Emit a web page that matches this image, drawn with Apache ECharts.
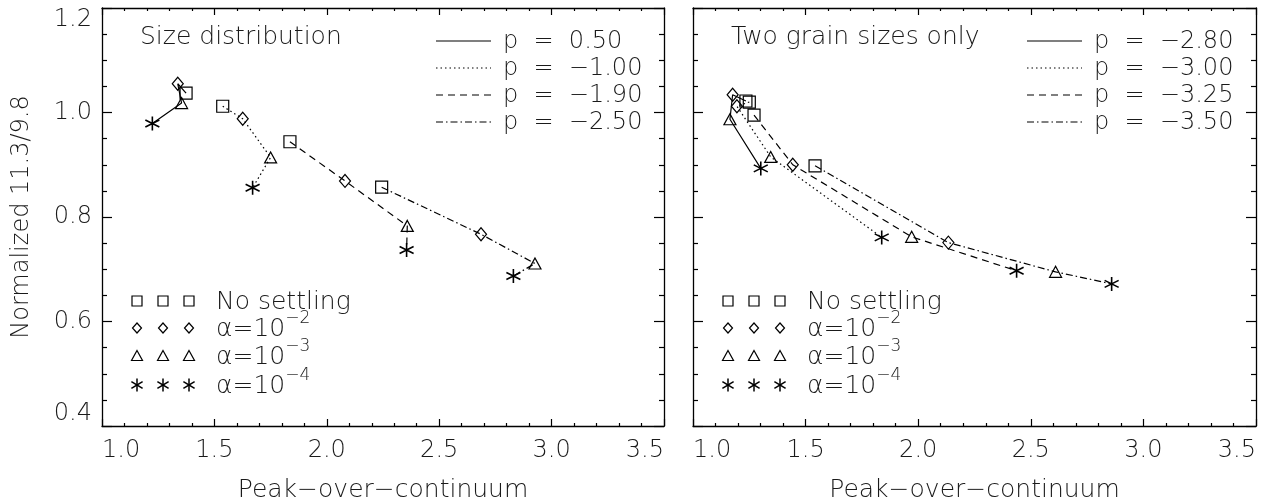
<!DOCTYPE html>
<html>
<head>
<meta charset="utf-8">
<script src="https://cdn.jsdelivr.net/npm/echarts@6/dist/echarts.min.js"></script>
<style>
  html, body { margin: 0; padding: 0; background: #fff; }
  #chart { width: 1269px; height: 504px; }
</style>
</head>
<body>
<div id="chart"></div>
<script>
    // order of points in every curve: no settling, 1e-2, 1e-3, 1e-4
    var settlingNames = ['No settling', 'α=10', 'α=10', 'α=10'];
    var settlingExp = ['', '−2', '−3', '−4'];

    var leftTitle = 'Size distribution';
    var leftP = ['0.50', '−1.00', '−1.90', '−2.50'];
    var leftX = [
        [1.374, 1.337, 1.354, 1.224],
        [1.537, 1.626, 1.750, 1.670],
        [1.836, 2.081, 2.358, 2.355],
        [2.244, 2.686, 2.926, 2.830]
    ];
    var leftY = [
        [1.037, 1.055, 1.018, 0.979],
        [1.012, 0.988, 0.914, 0.856],
        [0.944, 0.869, 0.783, 0.737],
        [0.857, 0.767, 0.711, 0.687]
    ];

    var rightTitle = 'Two grain sizes only';
    var rightP = ['−2.80', '−3.00', '−3.25', '−3.50'];
    var rightX = [
        [1.235, 1.176, 1.164, 1.301],
        [1.250, 1.195, 1.345, 1.838],
        [1.271, 1.443, 1.971, 2.437],
        [1.542, 2.134, 2.610, 2.859]
    ];
    var rightY = [
        [1.022, 1.034, 0.987, 0.893],
        [1.020, 1.012, 0.915, 0.761],
        [0.995, 0.900, 0.762, 0.697],
        [0.898, 0.751, 0.695, 0.672]
    ];

    var xTicks = [1.0, 1.5, 2.0, 2.5, 3.0, 3.5];
    var yTicks = [0.4, 0.6, 0.8, 1.0, 1.2];

    var FONT = 'DejaVu Sans';
    var INK = '#1a1a1a';
    var ASTERISK = 'path://M0,-10L0,10M-8.66,-5L8.66,5M-8.66,5L8.66,-5';
    var symbols = ['rect', 'diamond', 'triangle', ASTERISK];
    var symbolSizes = [[12, 12], [11, 13], [12, 11], [14, 14]];
    var dashes = ['solid', [1.5, 3], [7, 5], [7, 3, 1.5, 3]];

    var chart = echarts.init(document.getElementById('chart'));

    var grids = [
        {left: 102, right: 605, top: 8, bottom: 78, outerBoundsMode: 'none'},
        {left: 693, right: 13, top: 8, bottom: 78, outerBoundsMode: 'none'}
    ];

    function xAxes(gi, top) {
        return {
            gridIndex: gi,
            type: 'value',
            position: top ? 'top' : 'bottom',
            min: xTicks[0],
            max: xTicks[xTicks.length - 1],
            interval: 0.5,
            name: top ? '' : 'Peak−over−continuum',
            nameLocation: 'middle',
            nameGap: 52,
            nameTextStyle: {fontFamily: FONT, fontSize: 25, fontWeight: 200, color: INK},
            axisLine: {show: true, onZero: false, lineStyle: {color: '#000', width: 1.3}},
            axisTick: {show: true, inside: true, length: 7, lineStyle: {color: '#000', width: 1.2}},
            minorTick: {show: true, splitNumber: 5, length: 3, lineStyle: {color: '#000', width: 1.2}},
            splitLine: {show: false},
            axisLabel: {
                show: !top,
                margin: 13,
                fontFamily: FONT,
                fontSize: 24,
                fontWeight: 200,
                color: INK,
                alignMinLabel: 'left',
                alignMaxLabel: 'right',
                formatter: function (v) { return v.toFixed(1); }
            }
        };
    }

    function yAxes(gi, right, labels) {
        return {
            gridIndex: gi,
            type: 'value',
            position: right ? 'right' : 'left',
            min: yTicks[0],
            max: yTicks[yTicks.length - 1],
            interval: 0.2,
            name: labels ? 'Normalized 11.3/9.8' : '',
            nameLocation: 'middle',
            nameGap: 68,
            nameTextStyle: {fontFamily: FONT, fontSize: 24, fontWeight: 200, color: INK},
            axisLine: {show: true, onZero: false, lineStyle: {color: '#000', width: 1.3}},
            axisTick: {show: true, inside: true, length: 10, lineStyle: {color: '#000', width: 1.2}},
            minorTick: {show: true, splitNumber: 4, length: 5, lineStyle: {color: '#000', width: 1.2}},
            splitLine: {show: false},
            axisLabel: {
                show: labels,
                margin: 10,
                fontFamily: FONT,
                fontSize: 24,
                fontWeight: 200,
                color: INK,
                verticalAlignMinLabel: 'bottom',
                verticalAlignMaxLabel: 'top',
                formatter: function (v) { return v.toFixed(1); }
            }
        };
    }

    var series = [];
    function addCurves(xs, ys, axisIdx) {
        for (var i = 0; i < xs.length; i++) {
            var data = [];
            for (var j = 0; j < xs[i].length; j++) {
                data.push({
                    value: [xs[i][j], ys[i][j]],
                    symbol: symbols[j],
                    symbolSize: symbolSizes[j],
                    itemStyle: {borderWidth: j === 3 ? 1.6 : 1.2}
                });
            }
            series.push({
                type: 'line',
                xAxisIndex: axisIdx,
                yAxisIndex: axisIdx,
                data: data,
                showSymbol: true,
                symbolKeepAspect: false,
                lineStyle: {color: '#000', width: 1.2, type: dashes[i]},
                itemStyle: {color: 'rgba(0,0,0,0)', borderColor: '#000', borderWidth: 1.2},
                emphasis: {disabled: true},
                silent: true
            });
        }
    }
    addCurves(leftX, leftY, 0);
    addCurves(rightX, rightY, 2);

    // legends drawn as graphics (line styles top right, markers bottom left)
    var graphic = [];
    function legendSymbol(k, cx, cy) {
        var st = {fill: 'none', stroke: '#000', lineWidth: 1.2};
        if (k === 0) return {type: 'rect', shape: {x: cx - 5, y: cy - 5, width: 10, height: 10}, style: st};
        if (k === 1) return {type: 'polygon', shape: {points: [[cx, cy - 5], [cx + 4.5, cy], [cx, cy + 5], [cx - 4.5, cy]]}, style: st};
        if (k === 2) return {type: 'polygon', shape: {points: [[cx, cy - 5.5], [cx + 5.5, cy + 4.5], [cx - 5.5, cy + 4.5]]}, style: st};
        var sa = {fill: 'none', stroke: '#000', lineWidth: 1.5};
        return {
            type: 'group',
            children: [
                {type: 'line', shape: {x1: cx, y1: cy - 6.5, x2: cx, y2: cy + 6.5}, style: sa},
                {type: 'line', shape: {x1: cx - 5.6, y1: cy - 3.3, x2: cx + 5.6, y2: cy + 3.3}, style: sa},
                {type: 'line', shape: {x1: cx - 5.6, y1: cy + 3.3, x2: cx + 5.6, y2: cy - 3.3}, style: sa}
            ]
        };
    }
    function addLegends(dx, title, pvals) {
        graphic.push({
            type: 'text', x: 140 + dx, y: 37,
            style: {text: title, fontFamily: FONT, fontSize: 25, fontWeight: 200, fill: INK, verticalAlign: 'middle'}
        });
        var rowsTop = [41, 68, 95, 122];
        for (var i = 0; i < pvals.length; i++) {
            var dash = dashes[i] === 'solid' ? null : dashes[i];
            graphic.push({
                type: 'line',
                shape: {x1: 436 + dx, y1: rowsTop[i], x2: 491 + dx, y2: rowsTop[i]},
                style: {stroke: '#000', lineWidth: 1.2, lineDash: dash}
            });
            graphic.push({
                type: 'text', x: 503 + dx, y: rowsTop[i] + 1,
                style: {text: 'p  =  ' + pvals[i], fontFamily: FONT, fontSize: 24, fontWeight: 200, fill: INK, verticalAlign: 'middle'}
            });
        }
        var rowsBot = [301, 328, 356, 385];
        var cols = [137, 163, 189];
        for (var k = 0; k < settlingNames.length; k++) {
            for (var c = 0; c < cols.length; c++) {
                graphic.push(legendSymbol(k, cols[c] + dx, rowsBot[k]));
            }
            var txt = '{t|' + settlingNames[k] + '}' + (settlingExp[k] ? '{s|' + settlingExp[k] + '}' : '');
            graphic.push({
                type: 'text', x: 216 + dx, y: rowsBot[k] + 1,
                style: {
                    text: txt,
                    verticalAlign: 'middle',
                    rich: {
                        t: {fontFamily: FONT, fontSize: 25, fontWeight: 200, fill: INK, lineHeight: 26, verticalAlign: 'bottom'},
                        s: {fontFamily: FONT, fontSize: 17, fontWeight: 200, fill: INK, lineHeight: 17, padding: [0, 0, 15, 0], verticalAlign: 'bottom'}
                    }
                }
            });
        }
    }
    addLegends(0, leftTitle, leftP);
    addLegends(591, rightTitle, rightP);

    var option = {
        animation: false,
        backgroundColor: '#fff',
        grid: grids,
        xAxis: [xAxes(0, false), xAxes(0, true), xAxes(1, false), xAxes(1, true)],
        yAxis: [yAxes(0, false, true), yAxes(0, true, false), yAxes(1, false, false), yAxes(1, true, false)],
        series: series,
        graphic: graphic
    };
    chart.setOption(option);
</script>
</body>
</html>
